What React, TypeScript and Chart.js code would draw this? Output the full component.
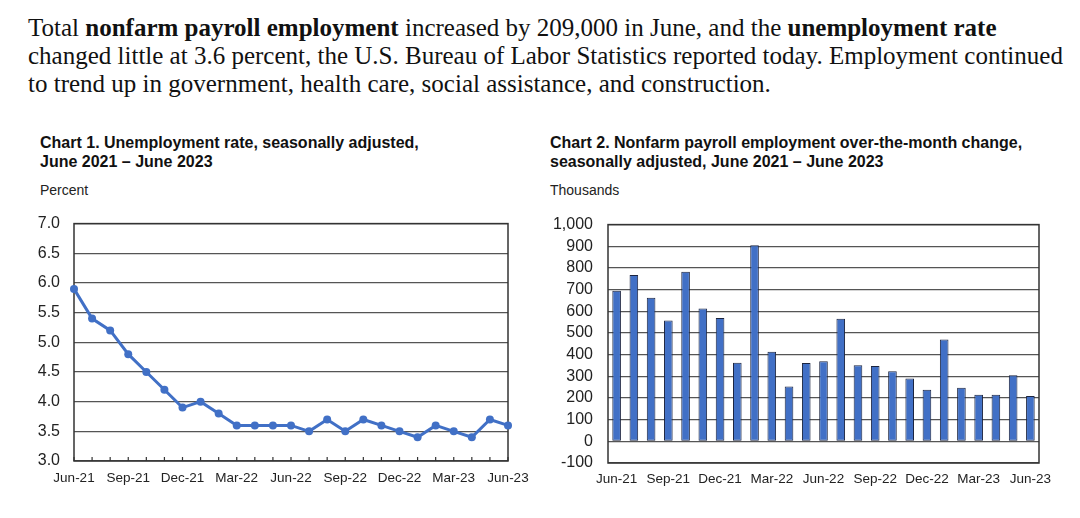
import React, { useEffect, useRef } from "react";
import { Chart, registerables } from "chart.js";

Chart.register(...registerables);

const months = [
  "Jun-21", "Jul-21", "Aug-21", "Sep-21", "Oct-21", "Nov-21", "Dec-21",
  "Jan-22", "Feb-22", "Mar-22", "Apr-22", "May-22", "Jun-22", "Jul-22",
  "Aug-22", "Sep-22", "Oct-22", "Nov-22", "Dec-22", "Jan-23", "Feb-23",
  "Mar-23", "Apr-23", "May-23", "Jun-23",
];

const unemploymentRate = [
  5.9, 5.4, 5.2, 4.8, 4.5, 4.2, 3.9, 4.0, 3.8, 3.6, 3.6, 3.6, 3.6, 3.5,
  3.7, 3.5, 3.7, 3.6, 3.5, 3.4, 3.6, 3.5, 3.4, 3.7, 3.6,
];

const payrollChange = [
  695, 768, 663, 557, 782, 613, 569, 363, 905, 413, 253, 361, 370, 566,
  351, 348, 323, 290, 238, 470, 247, 215, 215, 305, 209,
];

const rateTicks = [3.0, 3.5, 4.0, 4.5, 5.0, 5.5, 6.0, 6.5, 7.0];
const payrollTicks = [-100, 0, 100, 200, 300, 400, 500, 600, 700, 800, 900, 1000];

const BLUE = "#4170C6";
const SANS = "'Liberation Sans', Arial, sans-serif";

const framePlugin = {
  id: "frame",
  beforeDatasetsDraw(chart: any, _args: any, opts: any) {
    const { ctx, chartArea } = chart;
    const { left, top, right, bottom } = chartArea;
    ctx.save();
    ctx.strokeStyle = "#333";
    ctx.lineWidth = 1.5;
    ctx.strokeRect(left, top, right - left, bottom - top);
    if (opts && opts.innerTicks) {
      const xs = chart.scales.x;
      ctx.lineWidth = 1.2;
      ctx.beginPath();
      for (let i = 0; i < chart.data.labels.length; i++) {
        const px = xs.getPixelForValue(i);
        ctx.moveTo(px, bottom);
        ctx.lineTo(px, bottom - 4);
      }
      ctx.stroke();
    }
    ctx.restore();
  },
};

export default function App() {
  const c1 = useRef<HTMLCanvasElement>(null);
  const c2 = useRef<HTMLCanvasElement>(null);

  useEffect(() => {
    document.body.style.margin = "0";
    const xTickCb = (_v: any, i: number) => (i % 3 === 0 ? months[i] : "");

    const ch1 = new Chart(c1.current as HTMLCanvasElement, {
      type: "line",
      data: {
        labels: months,
        datasets: [
          {
            data: unemploymentRate,
            borderColor: BLUE,
            backgroundColor: BLUE,
            borderWidth: 3,
            pointRadius: 4,
            pointBackgroundColor: BLUE,
            pointBorderWidth: 0,
            tension: 0,
            clip: false as any,
          },
        ],
      },
      options: {
        animation: false,
        responsive: false,
        layout: { padding: { left: 0, right: 32, top: 19, bottom: 1 } },
        plugins: { legend: { display: false }, tooltip: { enabled: false }, frame: { innerTicks: true } } as any,
        scales: {
          x: {
            offset: false,
            grid: { display: false, drawTicks: false, tickLength: 0 },
            border: { display: false },
            ticks: {
              autoSkip: false,
              maxRotation: 0,
              padding: 9,
              color: "#222",
              font: { family: SANS, size: 13.5 },
              callback: xTickCb as any,
            },
            afterFit(scale: any) { scale.height = 33; },
          },
          y: {
            min: rateTicks[0],
            max: rateTicks[rateTicks.length - 1],
            afterBuildTicks(scale: any) { scale.ticks = rateTicks.map((v) => ({ value: v })); },
            grid: { color: "#555", lineWidth: 1.2, drawTicks: false, tickLength: 0 },
            border: { display: false },
            ticks: {
              autoSkip: false,
              padding: 14,
              color: "#222",
              font: { family: SANS, size: 16 },
              callback: (v: any) => Number(v).toFixed(1),
            },
            afterFit(scale: any) { scale.width = 44; },
          },
        },
      },
      plugins: [framePlugin],
    });

    const ch2 = new Chart(c2.current as HTMLCanvasElement, {
      type: "bar",
      data: {
        labels: months,
        datasets: [
          {
            data: payrollChange,
            backgroundColor: BLUE,
            borderColor: "#1c2540",
            borderWidth: 1,
            borderSkipped: false,
            categoryPercentage: 1,
            barPercentage: 0.5,
          },
        ],
      },
      options: {
        animation: false,
        responsive: false,
        layout: { padding: { left: 0, right: 21, top: 19, bottom: 0 } },
        plugins: { legend: { display: false }, tooltip: { enabled: false } },
        scales: {
          x: {
            offset: true,
            grid: { display: false, drawTicks: false, tickLength: 0 },
            border: { display: false },
            ticks: {
              autoSkip: false,
              maxRotation: 0,
              padding: 8,
              color: "#222",
              font: { family: SANS, size: 13.5 },
              callback: xTickCb as any,
            },
            afterFit(scale: any) { scale.height = 32; },
          },
          y: {
            min: payrollTicks[0],
            max: payrollTicks[payrollTicks.length - 1],
            afterBuildTicks(scale: any) { scale.ticks = payrollTicks.map((v) => ({ value: v })); },
            grid: { color: "#555", lineWidth: 1.2, drawTicks: false, tickLength: 0 },
            border: { display: false },
            ticks: {
              autoSkip: false,
              padding: 15,
              color: "#222",
              font: { family: SANS, size: 16 },
              callback: (v: any) => Number(v).toLocaleString("en-US"),
            },
            afterFit(scale: any) { scale.width = 68; },
          },
        },
      },
      plugins: [framePlugin],
    });

    return () => {
      ch1.destroy();
      ch2.destroy();
    };
  }, []);

  const titleStyle: React.CSSProperties = {
    position: "absolute",
    fontFamily: SANS,
    fontWeight: "bold",
    fontSize: 16,
    lineHeight: "19px",
    color: "#111",
    whiteSpace: "nowrap",
  };
  const unitStyle: React.CSSProperties = {
    position: "absolute",
    fontFamily: SANS,
    fontSize: 14,
    color: "#222",
    whiteSpace: "nowrap",
  };

  return (
    <div style={{ position: "absolute", left: 0, top: 0, width: 1080, height: 518, background: "#fff", overflow: "hidden" }}>
      <div
        style={{
          position: "absolute",
          left: 28,
          top: 14,
          fontFamily: "'Liberation Serif', 'Times New Roman', serif",
          fontSize: 25,
          lineHeight: "28px",
          color: "#111",
          whiteSpace: "nowrap",
        }}
      >
        Total <b>nonfarm payroll employment</b> increased by 209,000 in June, and the <b>unemployment rate</b>
        <br />
        changed little at 3.6 percent, the U.S. Bureau of Labor Statistics reported today. Employment continued
        <br />
        to trend up in government, health care, social assistance, and construction.
      </div>

      <div style={{ ...titleStyle, left: 40, top: 133 }}>
        Chart 1. Unemployment rate, seasonally adjusted,
        <br />
        June 2021 – June 2023
      </div>
      <div style={{ ...unitStyle, left: 40, top: 182 }}>Percent</div>

      <div style={{ ...titleStyle, left: 550, top: 133 }}>
        Chart 2. Nonfarm payroll employment over-the-month change,
        <br />
        seasonally adjusted, June 2021 – June 2023
      </div>
      <div style={{ ...unitStyle, left: 550, top: 182 }}>Thousands</div>

      <canvas ref={c1} width={540 - 30} height={295} style={{ position: "absolute", left: 30, top: 200 }} />
      <canvas ref={c2} width={1060 - 540} height={295} style={{ position: "absolute", left: 540, top: 200 }} />
    </div>
  );
}
